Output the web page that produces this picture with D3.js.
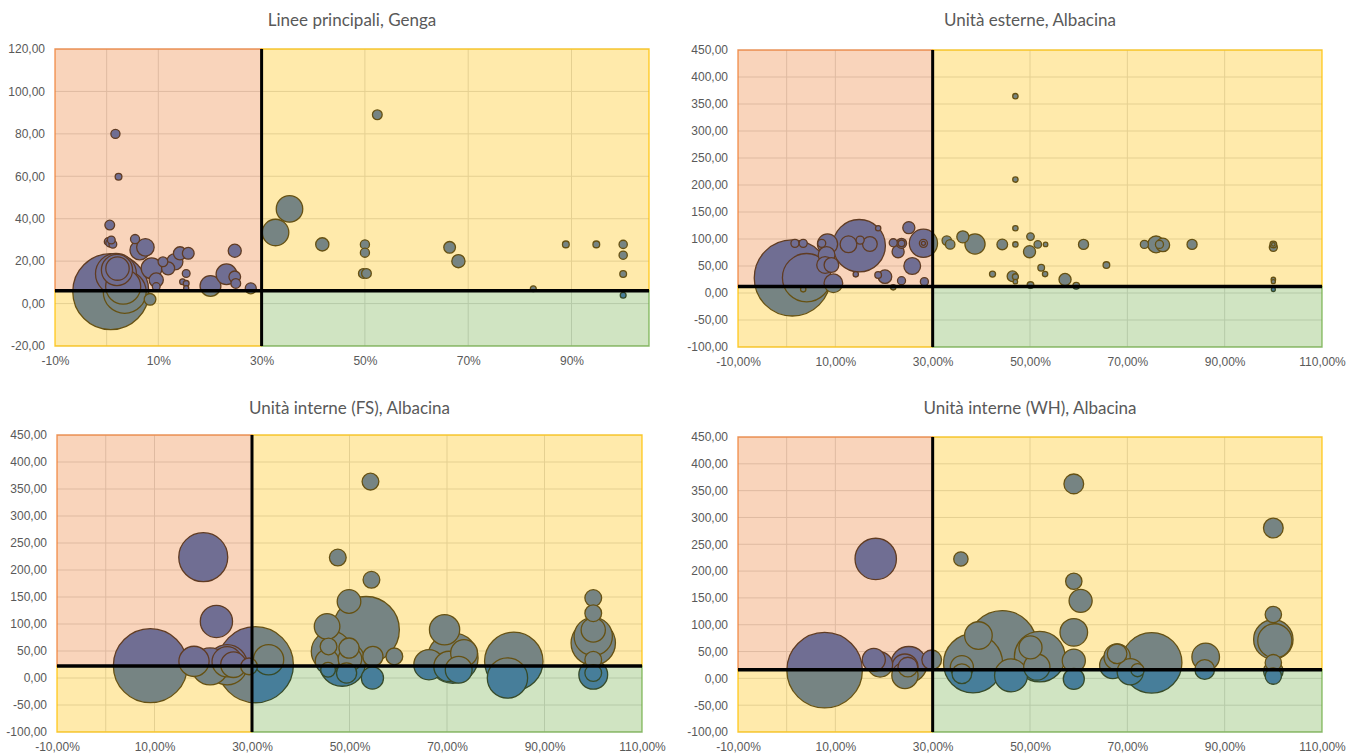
<!DOCTYPE html>
<html>
<head>
<meta charset="utf-8">
<script src="https://cdn.jsdelivr.net/npm/d3@7"></script>
<style>
  body { margin: 0; background: #fff; }
  svg { display: block; font-family: Lato, "Open Sans", sans-serif; }
  .tick text { fill: #595959; font-size: 12px; }
  .title { fill: #595959; font-size: 17px; }
</style>
</head>
<body>
<div id="chart"></div>
<script>
// --- dati: Linee principali, Genga ---
const gengaX = [0.008, 0.021, 0.02, 0.018, 0.032, 0.035, 0.006, 0.003, 0.006, 0.012, 0.009, 0.017, 0.023, 0.055, 0.064, 0.075,
  0.087, 0.096, 0.096, 0.084, 0.109, 0.119, 0.132, 0.142, 0.158, 0.154, 0.147, 0.154, 0.154, 0.201, 0.232, 0.248, 0.248, 0.25,
  0.279, 0.524, 0.354, 0.327, 0.4175, 0.50, 0.50, 0.497, 0.503, 0.664, 0.681, 0.889, 0.948, 1.0, 1.0, 1.0, 1.0, 0.826];
const gengaY = [5.6, 16.5, 15.8, 14, 8, 5.5, 37, 29.2, 28.5, 28, 30, 80, 59.8, 30.4, 25.2, 26.5,
  16.6, 11.1, 8, 2, 19.7, 16.6, 19.7, 23.7, 23.7, 14.2, 10.3, 9.5, 7.2, 8.3, 13.8, 24.9, 12.6, 9.5,
  7.2, 89, 44.6, 33.5, 27.9, 27.9, 24, 14.2, 14.2, 26.5, 20, 27.9, 27.9, 27.9, 22.8, 13.9, 3.9, 7];
const gengaSize = [1521, 144, 256, 441, 324, 484, 25, 16, 16, 16, 16, 22, 12, 22, 100, 81,
  114, 53, 16, 36, 25, 45, 69, 45, 36, 16, 9, 9, 7, 114, 114, 45, 36, 25,
  32, 25, 185, 185, 46, 22, 22, 25, 25, 36, 46, 12, 12, 18, 18, 12, 9, 9];

// --- dati: Unità esterne, Albacina ---
const esterneX = [0.0115, 0.041, 0.034, 0.017, 0.034, 0.072, 0.084, 0.082, 0.079, 0.092, 0.096, 0.149, 0.127, 0.151, 0.171,
  0.188, 0.142, 0.188, 0.202, 0.219, 0.236, 0.219, 0.229, 0.236, 0.236, 0.251, 0.258, 0.281, 0.281, 0.281, 0.283, 0.329,
  0.336, 0.362, 0.387, 0.47, 0.47, 0.47, 0.47, 0.443, 0.423, 0.464, 0.47, 0.47, 0.501, 0.499, 0.501, 0.516, 0.532, 0.523,
  0.531, 0.572, 0.595, 0.61, 0.657, 0.735, 0.759, 0.773, 0.766, 0.833, 1.0, 1.0, 1.0, 1.0, 1.0, 1.0];
const esterneY = [27.8, 28.3, 6.8, 92, 92, 92, 90.7, 70.4, 51.9, 51.9, 18, 87.6, 90.2, 98, 90.7,
  120, 34.6, 33.3, 30.2, 10.5, 22.8, 93, 76.5, 92, 92, 121, 50, 92, 92, 92, 21, 97,
  90, 104, 90.7, 364.5, 210, 120, 90, 90, 35, 31, 30, 21, 104.4, 76.5, 14.6, 90, 90, 46.8,
  35, 25, 13.3, 90, 51.7, 90, 90, 89, 90, 90, 90, 84.6, 90, 25, 21, 6.5];
const esterneSize = [1421, 576, 7, 16, 16, 16, 100, 69, 69, 53, 86, 676, 69, 16, 53,
  7, 7, 11, 45, 7, 16, 16, 36, 25, 11, 36, 69, 196, 16, 4, 16, 22,
  22, 36, 100, 7, 7, 7, 7, 28, 9, 28, 9, 5, 14, 36, 11, 14, 5, 11,
  7, 36, 11, 25, 11, 16, 69, 45, 16, 25, 11, 16, 3, 5, 4, 4];

// --- dati: Unità interne (FS), Albacina ---
const internFSX = [0.0915, 0.20, 0.227, 0.181, 0.214, 0.249, 0.249, 0.262, 0.307, 0.334, 0.294, 0.543, 0.476, 0.545, 0.499,
  0.534, 0.454, 0.463, 0.485, 0.457, 0.454, 0.456, 0.499, 0.501, 0.494, 0.548, 0.547, 0.592, 0.695, 0.663, 0.712, 0.704,
  0.735, 0.724, 0.837, 0.824, 1.0, 1.0, 1.0, 1.0, 1.0, 1.0, 1.0, 1.0];
const internFSY = [22.8, 223.7, 104.7, 30.8, 21.5, 24.6, 30, 24.6, 24.6, 33.8, 21.5, 363.7, 223, 181.8, 141.7,
  89.3, 95.5, 49.3, 27.7, 58.5, 30.8, 15.3, 55.4, 35, 9.2, 40, 0, 40, 89.3, 24.6, 37, 21.5,
  46.2, 15.3, 30.8, 0, 148, 120, 64.7, 77, 33.8, 9.2, 6, 89];
const internFSSize = [1347, 590, 256, 225, 335, 400, 225, 161, 1421, 225, 69, 69, 69, 69, 137,
  1089, 161, 400, 529, 69, 137, 53, 100, 137, 100, 100, 121, 69, 225, 225, 625, 225,
  177, 177, 841, 400, 69, 69, 484, 360, 69, 69, 204, 144];

// --- dati: Unità interne (WH), Albacina ---
const internWHX = [0.078, 0.183, 0.179, 0.192, 0.251, 0.243, 0.249, 0.243, 0.298, 0.358, 0.59, 0.59, 0.604, 1.0, 1.0,
  1.0, 1.003, 1.0, 1.0, 1.0, 0.383, 0.394, 0.443, 0.36, 0.36, 0.461, 0.501, 0.52, 0.514, 0.59, 0.59, 0.59, 0.67,
  0.679, 0.679, 0.706, 0.721, 0.75, 0.861, 0.859];
const internWHY = [15.3, 222.6, 34.5, 25.8, 25.8, 21, 21, 5.5, 34.5, 222.6, 362.6, 181, 144.5, 280.3, 119,
  72.6, 70, 29.2, 13.6, 4.3, 28, 79.8, 62, 21, 8.7, 5.5, 57.7, 40.5, 21, 85.8, 33, -1, 24,
  45.7, 40, 12.4, 15.3, 29, 40, 16.6];
const internWHSize = [1467, 441, 137, 161, 335, 177, 100, 177, 100, 53, 100, 69, 137, 100, 69,
  400, 300, 69, 100, 69, 900, 196, 1225, 137, 100, 279, 137, 660, 177, 196, 137, 114, 177,
  100, 177, 177, 45, 942, 196, 100];

// soglie dei quadranti
const sogliaX = [0.30, 0.30, 0.30, 0.30];
const sogliaY = [6, 12, 22, 16];

const titoli = ["Linee principali, Genga", "Unità esterne, Albacina", "Unità interne (FS), Albacina", "Unità interne (WH), Albacina"];
const xTicksGenga = [-0.1, 0.1, 0.3, 0.5, 0.7, 0.9];
const xTicksAlbacina = [-0.1, 0.1, 0.3, 0.5, 0.7, 0.9, 1.1];
const yTicksGenga = [-20, 0, 20, 40, 60, 80, 100, 120];
const yTicksAlbacina = [-100, -50, 0, 50, 100, 150, 200, 250, 300, 350, 400, 450];

const loc = d3.formatLocale({decimal: ",", thousands: ".", grouping: [3], currency: ["€", ""], minus: "-"});

const W = 1359, H = 756;
const svg = d3.select("#chart").append("svg").attr("width", W).attr("height", H);

const charts = [
  {title: titoli[0], xs: gengaX, ys: gengaY, ss: gengaSize, tx: sogliaX[0], ty: sogliaY[0],
   xDom: [-0.1, 1.05], yDom: [-20, 120], xTicks: xTicksGenga, yTicks: yTicksGenga, xFmt: loc.format(".0%"),
   box: [55, 649, 49, 346], titleY: 26},
  {title: titoli[1], xs: esterneX, ys: esterneY, ss: esterneSize, tx: sogliaX[1], ty: sogliaY[1],
   xDom: [-0.1, 1.1], yDom: [-100, 450], xTicks: xTicksAlbacina, yTicks: yTicksAlbacina, xFmt: loc.format(".2%"),
   box: [738, 1322, 50, 347], titleY: 26},
  {title: titoli[2], xs: internFSX, ys: internFSY, ss: internFSSize, tx: sogliaX[2], ty: sogliaY[2],
   xDom: [-0.1, 1.1], yDom: [-100, 450], xTicks: xTicksAlbacina, yTicks: yTicksAlbacina, xFmt: loc.format(".2%"),
   box: [57, 642, 435, 732], titleY: 414},
  {title: titoli[3], xs: internWHX, ys: internWHY, ss: internWHSize, tx: sogliaX[3], ty: sogliaY[3],
   xDom: [-0.1, 1.1], yDom: [-100, 450], xTicks: xTicksAlbacina, yTicks: yTicksAlbacina, xFmt: loc.format(".2%"),
   box: [738, 1322, 437, 732], titleY: 414}
];

charts.forEach((c, k) => {
  const [l, r, t, b] = c.box;
  const g = svg.append("g");
  const x = d3.scaleLinear().domain(c.xDom).range([l, r]);
  const y = d3.scaleLinear().domain(c.yDom).range([b, t]);
  const rad = d3.scaleSqrt().domain([0, d3.max(c.ss)]).range([0, (b - t) * 0.128]);

  g.append("clipPath").attr("id", "clip" + k)
    .append("rect").attr("x", l).attr("y", t).attr("width", r - l).attr("height", b - t);

  // griglia
  g.selectAll(".gy").data(c.yTicks).join("line")
    .attr("x1", l).attr("x2", r).attr("y1", d => y(d)).attr("y2", d => y(d))
    .attr("stroke", "#d9d9d9").attr("stroke-width", 1);
  g.selectAll(".gx").data(c.xTicks.concat([0]).filter(d => d > c.xDom[0] && d < c.xDom[1])).join("line")
    .attr("x1", d => x(d)).attr("x2", d => x(d)).attr("y1", t).attr("y2", b)
    .attr("stroke", "#d9d9d9").attr("stroke-width", 1);

  // bolle (le più grandi sotto)
  const pts = c.xs.map((v, i) => ({x: v, y: c.ys[i], s: c.ss[i]})).sort((a, b2) => b2.s - a.s);
  g.append("g").attr("clip-path", `url(#clip${k})`)
    .selectAll("circle").data(pts).join("circle")
    .attr("cx", d => x(d.x)).attr("cy", d => y(d.y)).attr("r", d => rad(d.s))
    .attr("fill", "#3468c3").attr("stroke", "#1c1c1c").attr("stroke-width", 1.3);

  // quadranti trasparenti sopra
  const quads = [
    {x0: c.xDom[0], x1: c.tx, y0: c.ty, y1: c.yDom[1], col: "#ED7D31"},
    {x0: c.xDom[0], x1: c.tx, y0: c.yDom[0], y1: c.ty, col: "#FFC000"},
    {x0: c.tx, x1: c.xDom[1], y0: c.ty, y1: c.yDom[1], col: "#FFC000"},
    {x0: c.tx, x1: c.xDom[1], y0: c.yDom[0], y1: c.ty, col: "#70AD47"}
  ];
  g.selectAll(".quad").data(quads).join("rect")
    .attr("x", d => x(d.x0)).attr("y", d => y(d.y1))
    .attr("width", d => x(d.x1) - x(d.x0)).attr("height", d => y(d.y0) - y(d.y1))
    .attr("fill", d => d.col).attr("fill-opacity", 0.33)
    .attr("stroke", d => d.col).attr("stroke-opacity", 0.75).attr("stroke-width", 1.5);

  // linee soglia
  g.append("line").attr("x1", x(c.tx)).attr("x2", x(c.tx)).attr("y1", t).attr("y2", b)
    .attr("stroke", "#000").attr("stroke-width", 3);
  g.append("line").attr("x1", l).attr("x2", r).attr("y1", y(c.ty)).attr("y2", y(c.ty))
    .attr("stroke", "#000").attr("stroke-width", 3.5);

  // assi
  g.append("g").attr("transform", `translate(${l},0)`)
    .call(d3.axisLeft(y).tickValues(c.yTicks).tickSize(0).tickPadding(10).tickFormat(loc.format(".2f")))
    .call(s => s.select(".domain").remove());
  g.append("g").attr("transform", `translate(0,${b})`)
    .call(d3.axisBottom(x).tickValues(c.xTicks).tickSize(0).tickPadding(10).tickFormat(c.xFmt))
    .call(s => s.select(".domain").remove());
  g.selectAll(".tick text").attr("font-family", null);

  g.append("text").attr("class", "title")
    .attr("x", (l + r) / 2).attr("y", c.titleY).attr("text-anchor", "middle")
    .text(c.title);
});
</script>
</body>
</html>
